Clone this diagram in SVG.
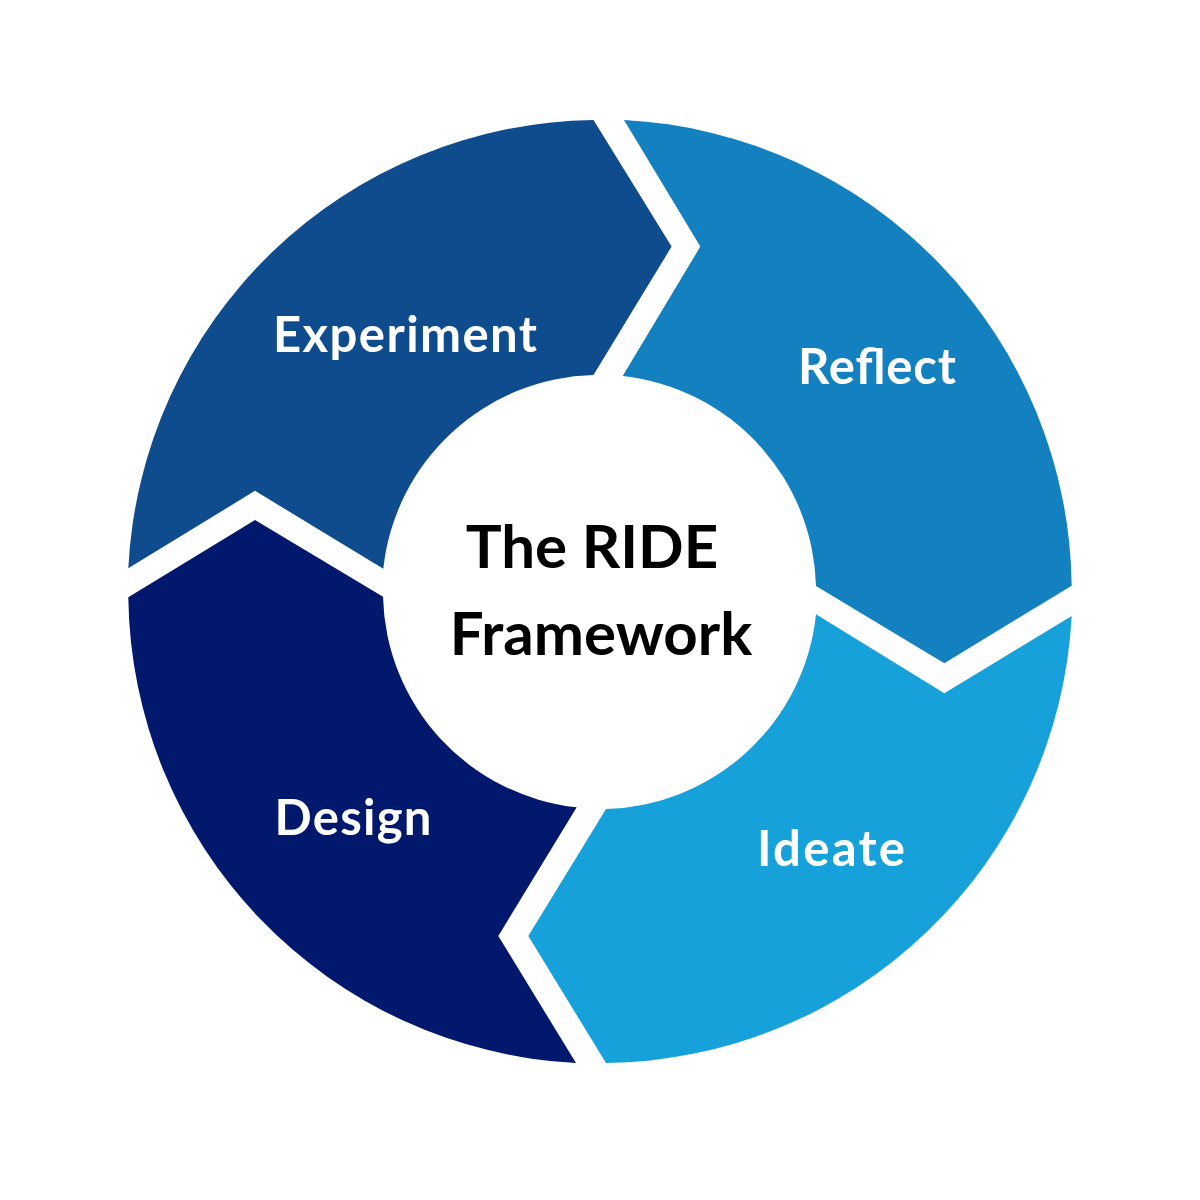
<svg xmlns="http://www.w3.org/2000/svg" width="1200" height="1200" viewBox="0 0 1200 1200">
  <style>
    .lbl { font-family: Lato, "Open Sans", "Liberation Sans", sans-serif; font-weight: 700; fill: #FFFFFF; font-size: 49px; text-anchor: middle; }
    .ctr { font-family: Lato, "Open Sans", "Liberation Sans", sans-serif; font-weight: 700; fill: #000000; font-size: 60px; text-anchor: middle; }
  </style>
  <rect x="0" y="0" width="1200" height="1200" fill="#FFFFFF"/>
  <g id="experiment">
    <path fill="#0E4C8E" d="M 128.3,568.3 A 472 472 0 0 1 593.5,120 L 671.6,246.6 L 593.5,375 A 217 217 0 0 0 383.3,568.8 L 255,490.8 Z"/>
    <text class="lbl" x="405" y="352" textLength="264">Experiment</text>
  </g>
  <g id="reflect">
    <path fill="#1381C0" d="M 624,120 A 472 472 0 0 1 1071.7,585.7 L 944.3,663.2 L 816,586 A 217 217 0 0 0 622.7,376 L 700.3,246.6 Z"/>
    <text class="lbl" x="877" y="384" textLength="158">Reflect</text>
  </g>
  <g id="ideate">
    <path fill="#17A1DB" d="M 1071.7,616 A 472 472 0 0 1 606,1063 L 528.3,936 L 606,809 A 217 217 0 0 0 816,614.3 L 944.3,693.3 Z"/>
    <text class="lbl" x="831" y="866" textLength="148">Ideate</text>
  </g>
  <g id="design">
    <path fill="#01186D" d="M 576,1063 A 472 472 0 0 1 128.3,597.3 L 255,520 L 383,596.7 A 217 217 0 0 0 576.7,807.3 L 498.3,936 Z"/>
    <text class="lbl" x="353" y="835" textLength="157">Design</text>
  </g>
  <g id="center">
    <text class="ctr" x="592" y="568">The RIDE</text>
    <text class="ctr" x="601" y="655">Framework</text>
  </g>
</svg>
